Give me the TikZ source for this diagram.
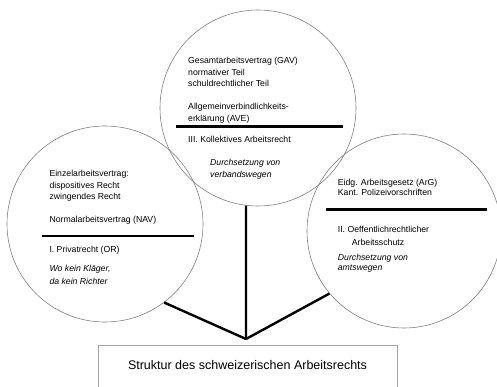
\documentclass[tikz,border=0pt]{standalone}
\usepackage{fontspec}
\setmainfont{Liberation Sans}
\usepackage{tikz}

\begin{document}
\begin{tikzpicture}[x=1pt,y=-1pt,
  kreis/.style={circle, draw=gray, line width=0.6pt, inner sep=0pt},
  txt/.style={anchor=base west, align=left, inner sep=0pt, font=\fontsize{8.7}{11.5}\selectfont},
  kursiv/.style={txt, font=\fontsize{8.7}{12.3}\selectfont\itshape},
  balken/.style={line width=2.4pt},
  verbindung/.style={line width=2.4pt}]
  \useasboundingbox (0,0) rectangle (497,387);
  % die drei Kreise
  \node[kreis, minimum size=196pt] (kollektivrecht) at (258,108) {};
  \node[kreis, minimum size=196pt] (privatrecht) at (105,224) {};
  \node[kreis, minimum size=194pt] (schutzrecht) at (404,231) {};
  % III. Kollektives Arbeitsrecht
  \node[txt] (gav) at (188,87) {Gesamtarbeitsvertrag (GAV)\\normativer Teil\\schuldrechtlicher Teil};
  \node[txt] (ave) at (188,121.3) {Allgemeinverbindlichkeits-\\erkl\"arung (AVE)};
  \draw[balken] (176,126.7) -- (343,126.7);
  \node[txt] (kollektiv) at (188,143) {III. Kollektives Arbeitsrecht};
  \node[kursiv] (verband) at (210,178) {Durchsetzung von\\verbandswegen};
  % I. Privatrecht
  \node[txt] (einzel) at (49.3,199.7) {Einzelarbeitsvertrag:\\dispositives Recht\\zwingendes Recht};
  \node[txt] (nav) at (49.3,222.3) {Normalarbeitsvertrag (NAV)};
  \draw[balken] (42.3,236) -- (194.3,236);
  \node[txt] (privat) at (49.3,252) {I. Privatrecht (OR)};
  \node[kursiv] (klaeger) at (49.3,284) {Wo kein Kl\"ager,\\da kein Richter};
  % II. Oeffentlichrechtlicher Arbeitsschutz
  \node[txt] (arg) at (337.7,195.7) {Eidg. Arbeitsgesetz (ArG)\\[-1pt]Kant. Polizeivorschriften};
  \draw[balken] (326,209.3) -- (486.7,209.3);
  \node[txt] (oeff) at (337.7,245.3) {II. Oeffentlichrechtlicher\\[1.8pt]\hspace*{14pt}Arbeitsschutz};
  \node[kursiv] (amt) at (337.7,270.3) {Durchsetzung von\\[-2.3pt]amtswegen};
  % Verbindungen
  \coordinate (spitze) at (246,339);
  \draw[verbindung] (kollektivrecht.263) -- (spitze);
  \draw[verbindung] (privatrecht.-53) -- (spitze);
  \draw[verbindung] (schutzrecht.-140) -- (spitze);
  % Titel
  \draw[gray!70, line width=0.6pt] (98,345) rectangle (397,395);
  \node[font=\fontsize{12.5}{15}\selectfont] (titel) at (247.5,365) {Struktur des schweizerischen Arbeitsrechts};
\end{tikzpicture}
\end{document}
